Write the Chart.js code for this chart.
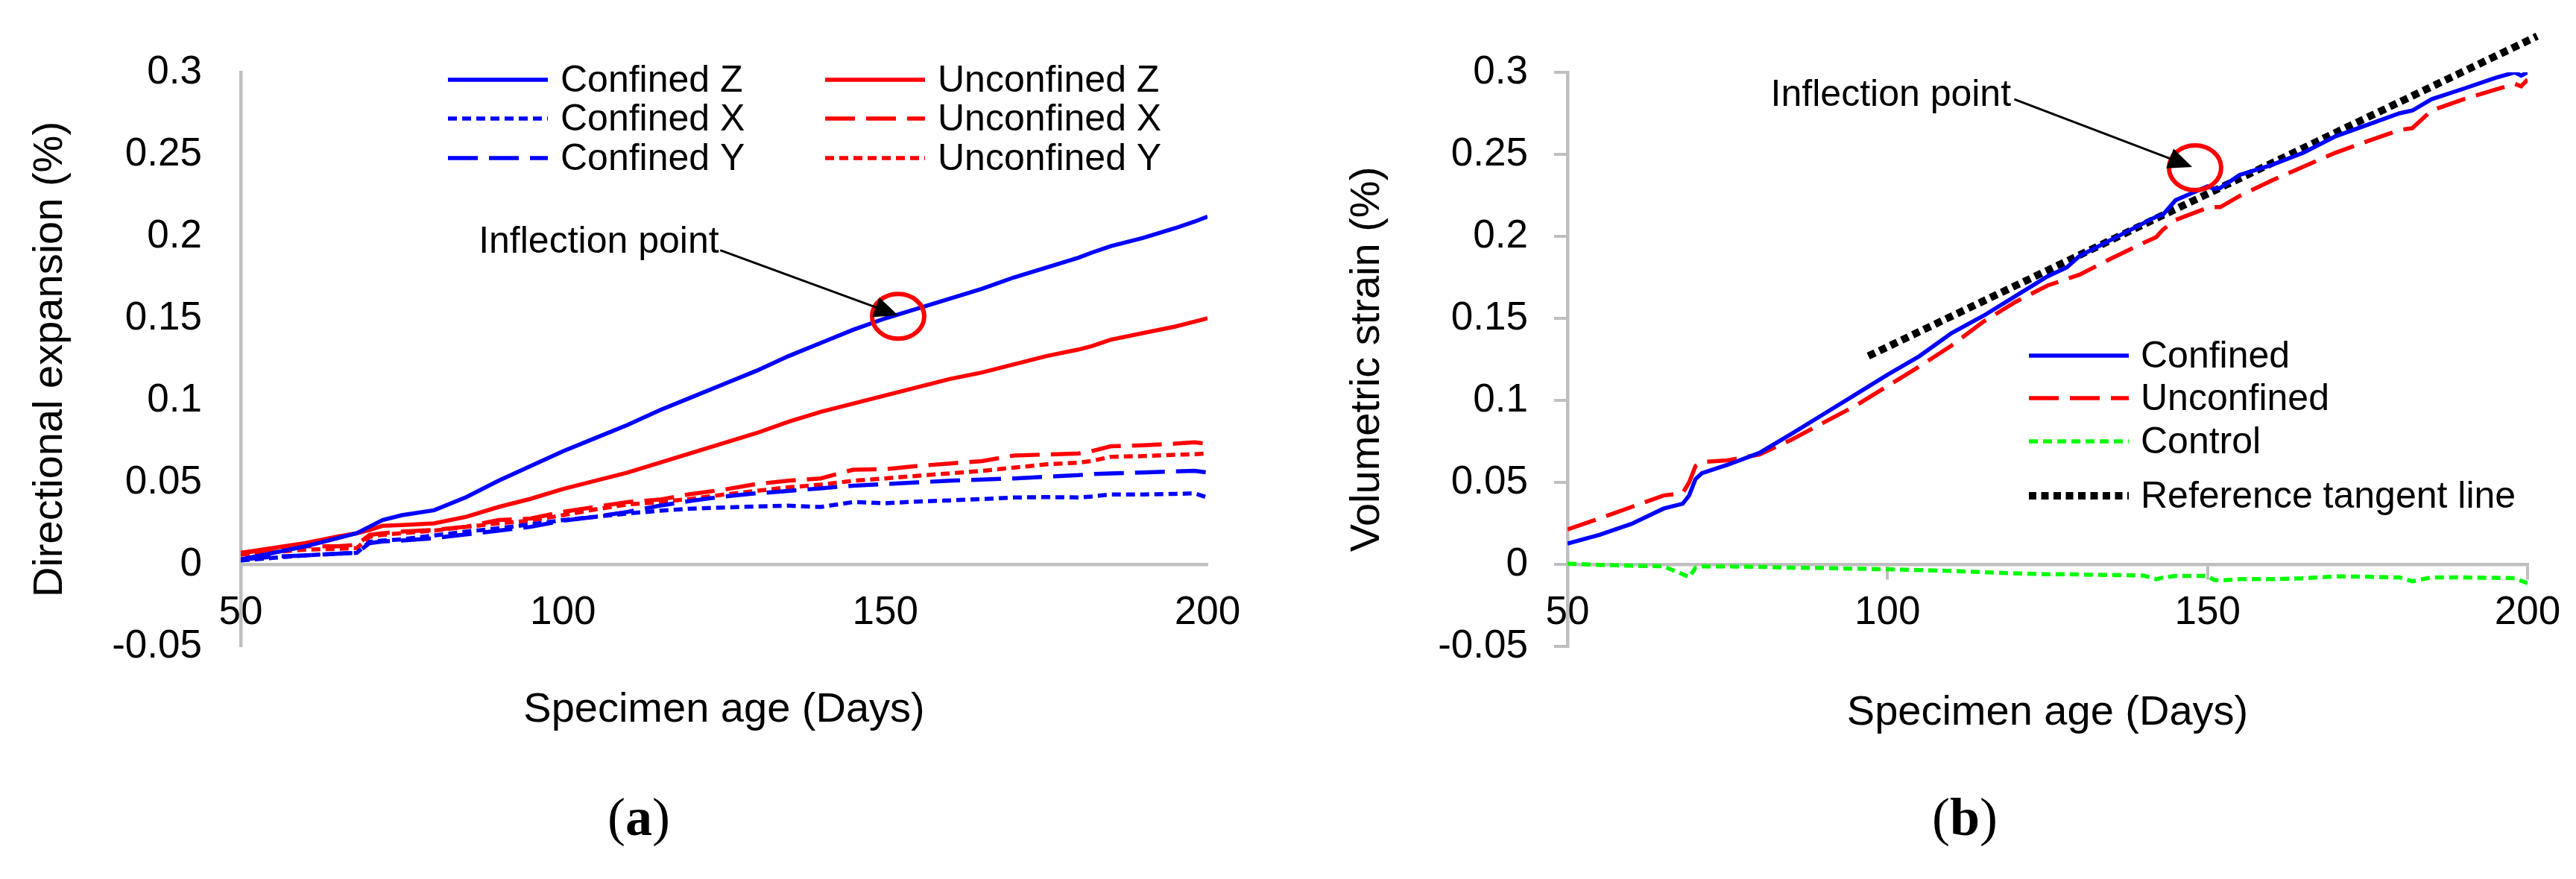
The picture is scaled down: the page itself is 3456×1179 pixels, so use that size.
<!DOCTYPE html>
<html>
<head>
<meta charset="utf-8">
<script src="https://cdn.jsdelivr.net/npm/chart.js@4.4.0/dist/chart.umd.min.js"></script>
<style>
html, body { margin: 0; padding: 0; background: #fff; }
#wrap { position: relative; width: 3456px; height: 1179px; overflow: hidden; }
canvas { position: absolute; top: 0; width: 1728px; height: 1179px; }
#cA { left: 0; }
#cB { left: 1728px; }
.tag { position: absolute; font-family: "Liberation Serif", "Times New Roman", serif; font-size: 72px; line-height: 1; color: #000; transform: translate(-50%, -50%); }
</style>
</head>
<body>
<div id="wrap">
  <canvas id="cA" width="1728" height="1179"></canvas>
  <canvas id="cB" width="1728" height="1179"></canvas>
  <div class="tag" style="left:857px; top:1096px">(<b>a</b>)</div>
  <div class="tag" style="left:2636px; top:1096px">(<b>b</b>)</div>
</div>
<script>
// ---- datos ----
const xTicks = [50, 100, 150, 200];
const yTicks = [-0.05, 0, 0.05, 0.1, 0.15, 0.2, 0.25, 0.3];

// (a) expansion direccional
const daysA = [50, 55, 60, 65, 68, 70, 72, 75, 80, 85, 90, 95, 100, 105, 110, 115, 120, 125, 130, 135,
  140, 145, 150, 155, 160, 165, 170, 175, 180, 182, 185, 190, 195, 198, 200];
const confinedZ = [0.003, 0.007, 0.011, 0.016, 0.019, 0.023, 0.027, 0.030, 0.033, 0.041, 0.051, 0.060, 0.069, 0.077, 0.085, 0.094, 0.102, 0.110, 0.118, 0.127,
  0.135, 0.143, 0.150, 0.156, 0.162, 0.168, 0.175, 0.181, 0.187, 0.190, 0.194, 0.199, 0.205, 0.209, 0.212];
const confinedX = [0.0024, 0.004, 0.0055, 0.0065, 0.007, 0.0138, 0.0145, 0.0153, 0.0176, 0.020, 0.022, 0.0244, 0.027, 0.029, 0.031, 0.0327, 0.034, 0.0347, 0.0353, 0.0358,
  0.035, 0.038, 0.0373, 0.0383, 0.039, 0.0398, 0.0408, 0.041, 0.0408, 0.0414, 0.0426, 0.0426, 0.043, 0.0433, 0.0408];
const confinedY = [0.003, 0.0047, 0.0055, 0.0065, 0.007, 0.013, 0.014, 0.0145, 0.016, 0.0183, 0.0206, 0.0229, 0.0267, 0.029, 0.032, 0.0358, 0.0388, 0.0414, 0.0433, 0.0448,
  0.0464, 0.048, 0.049, 0.050, 0.051, 0.0517, 0.0524, 0.0535, 0.0544, 0.055, 0.0555, 0.056, 0.0567, 0.057, 0.056];
const unconfinedZ = [0.007, 0.010, 0.013, 0.017, 0.019, 0.021, 0.0235, 0.024, 0.025, 0.029, 0.035, 0.040, 0.046, 0.051, 0.056, 0.062, 0.068, 0.074, 0.080, 0.087,
  0.093, 0.098, 0.103, 0.108, 0.113, 0.117, 0.122, 0.127, 0.131, 0.133, 0.137, 0.141, 0.145, 0.148, 0.150];
const unconfinedX = [0.007, 0.009, 0.011, 0.011, 0.012, 0.018, 0.019, 0.020, 0.021, 0.023, 0.027, 0.028, 0.032, 0.035, 0.038, 0.0395, 0.043, 0.0456, 0.049, 0.051,
  0.0524, 0.0577, 0.058, 0.060, 0.0615, 0.063, 0.0664, 0.067, 0.0676, 0.069, 0.072, 0.0726, 0.0736, 0.0744, 0.0736];
const unconfinedY = [0.006, 0.0075, 0.009, 0.0095, 0.010, 0.0168, 0.018, 0.019, 0.0206, 0.0229, 0.025, 0.0267, 0.030, 0.0335, 0.0365, 0.038, 0.040, 0.0426, 0.0448, 0.047,
  0.0486, 0.051, 0.0524, 0.054, 0.0555, 0.057, 0.059, 0.061, 0.062, 0.063, 0.0656, 0.066, 0.0668, 0.0672, 0.0676];

// (b) deformacion volumetrica
const daysB = [50, 55, 60, 65, 68, 69, 70, 71, 75, 80, 85, 90, 95, 100, 105, 110, 115, 120, 125, 128,
  130, 135, 140, 142, 143, 145, 150, 151, 152, 155, 160, 165, 170, 175, 180, 182, 185, 190, 195, 198, 199, 200];
const volConfined = [0.0127, 0.018, 0.0247, 0.034, 0.037, 0.042, 0.052, 0.0556, 0.0607, 0.068, 0.0796, 0.0916, 0.1036, 0.1156, 0.127, 0.141, 0.1516, 0.1636, 0.1756, 0.181,
  0.188, 0.198, 0.208, 0.212, 0.213, 0.222, 0.2305, 0.229, 0.2295, 0.2374, 0.2435, 0.251, 0.261, 0.268, 0.275, 0.2767, 0.2836, 0.290, 0.2966, 0.300, 0.298, 0.300];
const volUnconfined = [0.0213, 0.028, 0.035, 0.042, 0.0435, 0.050, 0.060, 0.0624, 0.0634, 0.067, 0.076, 0.0864, 0.0967, 0.1087, 0.1207, 0.1334, 0.148, 0.160, 0.170, 0.174,
  0.1766, 0.1866, 0.196, 0.1996, 0.204, 0.210, 0.2174, 0.2178, 0.2178, 0.2246, 0.234, 0.2425, 0.251, 0.258, 0.2648, 0.266, 0.2767, 0.2836, 0.2895, 0.293, 0.2915, 0.2956];
const volControl = [0.0005, -0.0003, -0.0008, -0.0012, -0.006, -0.0078, -0.002, -0.0012, -0.0012, -0.0015, -0.002, -0.0022, -0.0026, -0.003, -0.0035, -0.004, -0.0048, -0.0055, -0.006, -0.006,
  -0.0062, -0.0065, -0.0068, -0.009, -0.008, -0.007, -0.007, -0.0095, -0.0098, -0.009, -0.009, -0.0085, -0.0073, -0.0075, -0.008, -0.0103, -0.0079, -0.008, -0.0082, -0.0084, -0.01, -0.0114];
const tangentDays = [97, 201.5];
const tangentVals = [0.127, 0.322];

// ---- estilos ----
const FONT = "'Liberation Sans', Arial, sans-serif";
const BLUE = "#0000ff", RED = "#ff0000", GREEN = "#00ff00", AXIS = "#bfbfbf";
const LW = 5.5;
const DASH_LONG = [40, 15];
const DASH_SHORT = [12, 7];

Chart.defaults.font.family = FONT;
Chart.defaults.color = "#000";

function pts(days, vals) {
  return days.map((d, i) => ({ x: d, y: vals[i] }));
}

function serie(label, days, vals, color, dash, extra) {
  return Object.assign({
    label: label,
    data: pts(days, vals),
    borderColor: color,
    backgroundColor: color,
    borderWidth: LW,
    borderDash: dash,
    pointRadius: 0,
    tension: 0,
    fill: false
  }, extra || {});
}

function fmt(v) {
  return String(+Number(v).toFixed(2));
}

// leyenda y anotacion dibujadas a mano (Excel-like)
const decor = {
  id: "decor",
  afterDatasetsDraw(chart, args, opts) {
    const ctx = chart.ctx;
    const xs = chart.scales.x, ys = chart.scales.y;
    ctx.save();

    // leyenda
    const lg = opts.legend;
    ctx.font = "50px " + FONT;
    ctx.textBaseline = "middle";
    ctx.textAlign = "left";
    lg.items.forEach(it => {
      const ds = chart.data.datasets[it.ds];
      ctx.beginPath();
      ctx.strokeStyle = ds.borderColor;
      ctx.lineWidth = ds.borderWidth;
      ctx.setLineDash(ds.borderDash || []);
      ctx.moveTo(it.x, it.y);
      ctx.lineTo(it.x + lg.lineLen, it.y);
      ctx.stroke();
      ctx.setLineDash([]);
      ctx.fillStyle = "#000";
      ctx.fillText(ds.label, it.x + lg.lineLen + lg.gap, it.y + 2);
    });

    // "Inflection point"
    const n = opts.note;
    const px = p => [xs.getPixelForValue(p[0]), ys.getPixelForValue(p[1])];
    const [tx, ty] = px(n.text);
    ctx.textAlign = "right";
    ctx.textBaseline = "alphabetic";
    ctx.fillText("Inflection point", tx, ty);

    const [cx, cy] = px(n.circle);
    ctx.beginPath();
    ctx.strokeStyle = RED;
    ctx.lineWidth = 6;
    ctx.ellipse(cx, cy, 35, 30, 0, 0, Math.PI * 2);
    ctx.stroke();

    const [ax, ay] = px(n.from);
    const [bx, by] = px(n.tip);
    const ang = Math.atan2(by - ay, bx - ax);
    const hl = 32, hw = 14;
    const baseX = bx - hl * Math.cos(ang), baseY = by - hl * Math.sin(ang);
    ctx.beginPath();
    ctx.strokeStyle = "#000";
    ctx.lineWidth = 3;
    ctx.moveTo(ax, ay);
    ctx.lineTo(baseX, baseY);
    ctx.stroke();
    ctx.beginPath();
    ctx.fillStyle = "#000";
    ctx.moveTo(bx, by);
    ctx.lineTo(baseX + hw * Math.sin(ang), baseY - hw * Math.cos(ang));
    ctx.lineTo(baseX - hw * Math.sin(ang), baseY + hw * Math.cos(ang));
    ctx.closePath();
    ctx.fill();

    ctx.restore();
  }
};

function opciones(cfg) {
  return {
    responsive: false,
    devicePixelRatio: 1,
    animation: false,
    layout: { padding: { left: 20, right: cfg.padRight, top: 97, bottom: 312 } },
    plugins: {
      legend: { display: false },
      tooltip: { enabled: false },
      decor: { legend: cfg.legend, note: cfg.note }
    },
    scales: {
      x: {
        type: "linear",
        min: 50,
        max: 200,
        position: { y: 0 },
        afterBuildTicks: s => { s.ticks = xTicks.map(v => ({ value: v })); },
        ticks: { font: { size: 53 }, color: "#000", padding: cfg.ticks ? 16 : 34, maxRotation: 0, autoSkip: false, callback: v => fmt(v) },
        grid: cfg.ticks
          ? { display: true, drawOnChartArea: false, drawTicks: true, tickLength: 18, color: AXIS, lineWidth: 4 }
          : { display: false, drawTicks: false },
        border: { display: true, color: AXIS, width: 4.5 },
        title: { display: true, text: "Specimen age (Days)", font: { size: 56 }, color: "#000", padding: { top: cfg.xTitlePad, bottom: 0 } }
      },
      y: {
        type: "linear",
        position: "left",
        min: -0.05,
        max: 0.3,
        afterBuildTicks: s => { s.ticks = yTicks.map(v => ({ value: v })); },
        afterFit: s => { s.width = cfg.axisLeft - 20; },
        ticks: { font: { size: 53 }, color: "#000", padding: cfg.ticks ? 35 : 52, callback: v => fmt(v) },
        grid: cfg.ticks
          ? { display: true, drawOnChartArea: false, drawTicks: true, tickLength: 18, color: AXIS, lineWidth: 4 }
          : { display: false, drawTicks: false },
        border: { display: true, color: AXIS, width: 4.5 },
        title: { display: true, text: cfg.yTitle, font: { size: 56 }, color: "#000", padding: { top: cfg.yTitlePad, bottom: 0 } }
      }
    }
  };
}

// ---- grafico (a) ----
new Chart(document.getElementById("cA"), {
  type: "line",
  data: {
    datasets: [
      serie("Confined Z", daysA, confinedZ, BLUE, []),
      serie("Confined X", daysA, confinedX, BLUE, DASH_SHORT),
      serie("Confined Y", daysA, confinedY, BLUE, DASH_LONG),
      serie("Unconfined Z", daysA, unconfinedZ, RED, []),
      serie("Unconfined X", daysA, unconfinedX, RED, DASH_LONG),
      serie("Unconfined Y", daysA, unconfinedY, RED, DASH_SHORT)
    ]
  },
  options: opciones({
    padRight: 108,
    axisLeft: 323,
    ticks: false,
    xTitlePad: 30,
    yTitle: "Directional expansion (%)",
    yTitlePad: 14,
    legend: {
      lineLen: 134, gap: 17,
      items: [
        { ds: 0, x: 601, y: 107 }, { ds: 1, x: 601, y: 159 }, { ds: 2, x: 601, y: 212 },
        { ds: 3, x: 1107, y: 107 }, { ds: 4, x: 1107, y: 159 }, { ds: 5, x: 1107, y: 212 }
      ]
    },
    note: { text: [124.2, 0.19], from: [124.4, 0.1915], tip: [152, 0.1518], circle: [152, 0.1512] }
  }),
  plugins: [decor]
});

// ---- grafico (b) ----
new Chart(document.getElementById("cB"), {
  type: "line",
  data: {
    datasets: [
      serie("Confined", daysB, volConfined, BLUE, []),
      serie("Unconfined", daysB, volUnconfined, RED, DASH_LONG),
      serie("Control", daysB, volControl, GREEN, DASH_SHORT),
      serie("Reference tangent line", tangentDays, tangentVals, "#000", [10, 6.5], { borderWidth: 10, clip: false })
    ]
  },
  options: opciones({
    padRight: 65,
    axisLeft: 375,
    ticks: true,
    xTitlePad: 52,
    yTitle: "Volumetric strain (%)",
    yTitlePad: 53,
    legend: {
      lineLen: 134, gap: 16,
      items: [
        { ds: 0, x: 994, y: 477 }, { ds: 1, x: 994, y: 534 },
        { ds: 2, x: 994, y: 592 }, { ds: 3, x: 994, y: 665 }
      ]
    },
    note: { text: [119.3, 0.2795], from: [119.8, 0.2836], tip: [147.6, 0.2423], circle: [148.05, 0.2418] }
  }),
  plugins: [decor]
});
</script>
</body>
</html>
